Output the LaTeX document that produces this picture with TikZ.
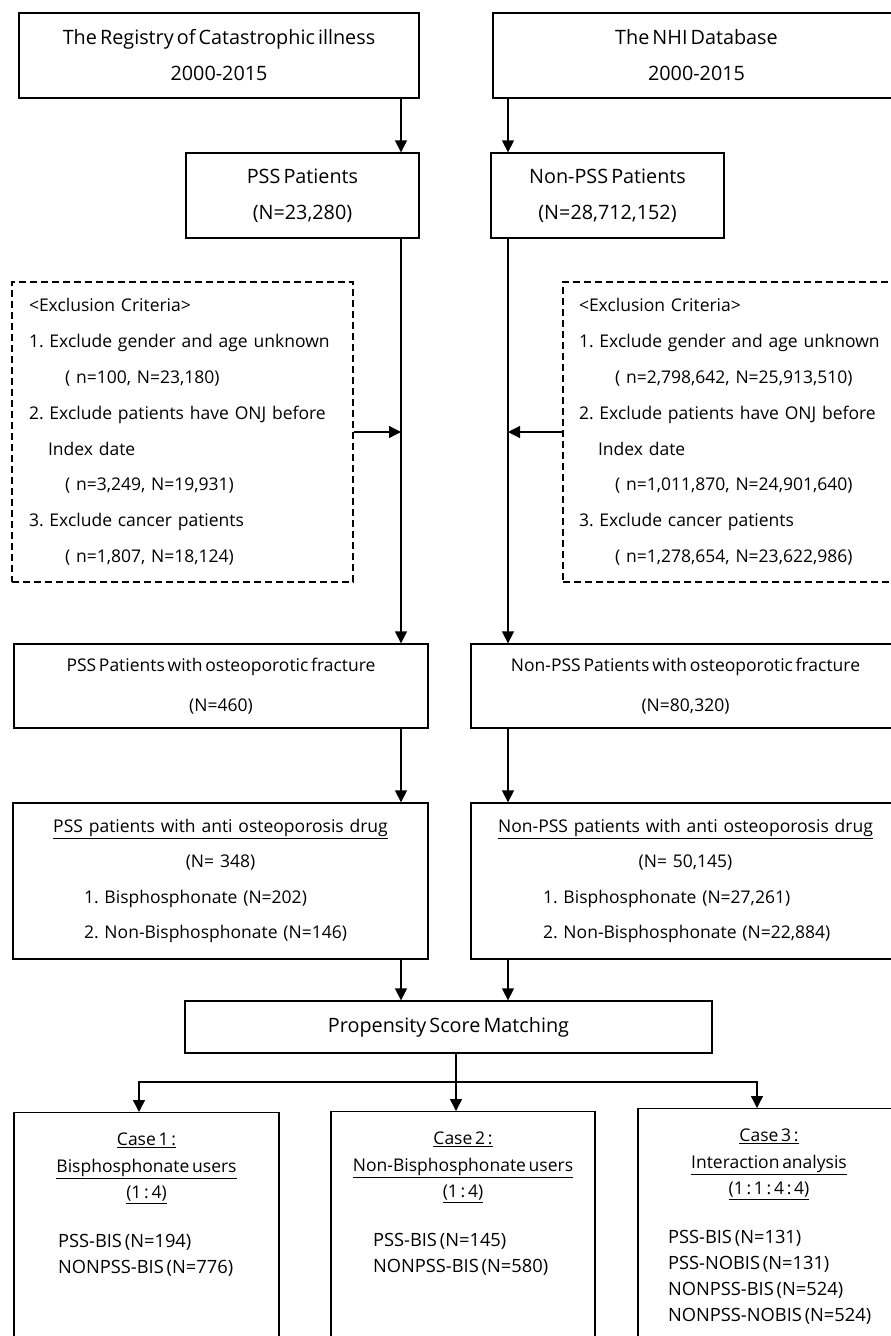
\documentclass[tikz,border=0pt]{standalone}
\usepackage{fontspec}
\setmainfont{Open Sans}[WordSpace=0.6]
\frenchspacing
\usetikzlibrary{arrows.meta}
\tikzset{
  caja/.style={draw, line width=1.3pt, inner sep=0pt, align=center, font=\fontsize{17.5}{36}\selectfont},
  grande/.style={font=\fontsize{19.8}{36}\selectfont},
  excl/.style={draw, line width=1.2pt, dash pattern=on 7pt off 4pt, inner ysep=0pt, align=left, font=\fontsize{17.5}{35.8}\selectfont},
  casebox/.style={draw, line width=1.3pt, inner sep=0pt, anchor=north},
  flecha/.style={line width=1.3pt, -{Triangle[width=12pt,length=12pt]}}
}
\newcommand{\casefont}{\fontsize{17.5}{26.8}\selectfont}
\newcommand{\itemfont}{\fontsize{18.3}{26}\selectfont}
\begin{document}
\begin{tikzpicture}[x=1pt,y=-1pt]
\useasboundingbox (0,0) rectangle (891,1336);
\clip (0,0) rectangle (891,1336);
% Columnas de flechas
\coordinate (colL) at (401,0);
\coordinate (colR) at (508,0);
\coordinate (colM) at (456,0);
\coordinate (split) at (0,1082);
\coordinate (brL) at (139,0);
\coordinate (brR) at (757,0);
% Bases de datos
\node[caja, grande, minimum width=400pt, minimum height=85pt] (reg) at (219,55.5) {The Registry of Catastrophic illness\\2000-2015};
\node[caja, grande, minimum width=407pt, minimum height=85pt] (nhi) at (696.5,55.5) {The NHI Database\\2000-2015};
% Pacientes
\node[caja, grande, minimum width=233pt, minimum height=85pt] (pss) at (302.5,195.5) {PSS Patients\\(N=23,280)};
\node[caja, grande, minimum width=233pt, minimum height=85pt] (npss) at (607.5,195.5) {Non-PSS Patients\\(N=28,712,152)};
% Criterios de exclusion
\node[excl, inner xsep=17pt, text width=307pt, minimum height=300pt] (exclL) at (182.5,432) {%
<Exclusion Criteria>\\
1. Exclude gender and age unknown\\
\hspace*{36pt}( n=100, N=23,180)\\
2. Exclude patients have ONJ before\\
\hspace*{19pt}Index date\\
\hspace*{36pt}( n=3,249, N=19,931)\\
3. Exclude cancer patients\\
\hspace*{36pt}( n=1,807, N=18,124)};
\node[excl, inner xsep=16pt, text width=305pt, minimum height=300pt] (exclR) at (731.5,432) {%
<Exclusion Criteria>\\
1. Exclude gender and age unknown\\
\hspace*{36pt}( n=2,798,642, N=25,913,510)\\
2. Exclude patients have ONJ before\\
\hspace*{19pt}Index date\\
\hspace*{36pt}( n=1,011,870, N=24,901,640)\\
3. Exclude cancer patients\\
\hspace*{36pt}( n=1,278,654, N=23,622,986)};
% Fracturas
\node[caja, minimum width=414pt, minimum height=84pt, font=\fontsize{17.5}{40}\selectfont] (fracL) at (221,686) {PSS Patients with osteoporotic fracture\\(N=460)};
\node[caja, minimum width=429pt, minimum height=84pt, font=\fontsize{17.5}{40}\selectfont] (fracR) at (685.5,686) {Non-PSS Patients with osteoporotic fracture\\(N=80,320)};
% Farmacos
\node[caja, align=left, text width=415pt, minimum height=156pt, font=\fontsize{17.5}{35.6}\selectfont] (drugL) at (220.5,881) {%
\makebox[\linewidth]{\underline{PSS patients with anti osteoporosis drug}}\\
\makebox[\linewidth]{(N= 348)}\\
\hspace*{71pt}1. Bisphosphonate (N=202)\\
\hspace*{71pt}2. Non-Bisphosphonate (N=146)};
\node[caja, align=left, text width=429pt, minimum height=156pt, font=\fontsize{17.5}{35.6}\selectfont] (drugR) at (685.5,881) {%
\makebox[\linewidth]{\underline{Non-PSS patients with anti osteoporosis drug}}\\
\makebox[\linewidth]{(N= 50,145)}\\
\hspace*{72pt}1. Bisphosphonate (N=27,261)\\
\hspace*{72pt}2. Non-Bisphosphonate (N=22,884)};
% Emparejamiento
\node[caja, grande, minimum width=527pt, minimum height=52pt] (psm) at (448.5,1027) {Propensity Score Matching};
% Casos
\node[casebox] (case1) at (146.5,1112) {\parbox[t][240pt][t]{265pt}{\casefont\vspace*{20pt}\centering
\underline{Case 1 :}\\\underline{Bisphosphonate users}\\\underline{(1 : 4)}\par\vspace{23pt}\raggedright\itemfont
\hspace*{44pt}PSS-BIS (N=194)\\\hspace*{44pt}NONPSS-BIS (N=776)}};
\node[casebox] (case2) at (463,1111) {\parbox[t][240pt][t]{264pt}{\casefont\vspace*{20pt}\centering
\underline{Case 2 :}\\\underline{Non-Bisphosphonate users}\\\underline{(1 : 4)}\par\vspace{23pt}\raggedright\itemfont
\hspace*{42pt}PSS-BIS (N=145)\\\hspace*{42pt}NONPSS-BIS (N=580)}};
\node[casebox] (case3) at (769,1108) {\parbox[t][240pt][t]{262pt}{\casefont\vspace*{20pt}\centering
\underline{Case 3 :}\\\underline{Interaction analysis}\\\underline{(1 : 1 : 4 : 4)}\par\vspace{23pt}\raggedright\itemfont
\hspace*{30pt}PSS-BIS (N=131)\\\hspace*{30pt}PSS-NOBIS (N=131)\\\hspace*{30pt}NONPSS-BIS (N=524)\\\hspace*{30pt}NONPSS-NOBIS (N=524)}};
% Flechas
\draw[flecha] (reg.south -| colL) -- (pss.north -| colL);
\draw[flecha] (nhi.south -| colR) -- (npss.north -| colR);
\draw[flecha] (pss.south -| colL) -- (fracL.north -| colL);
\draw[flecha] (npss.south -| colR) -- (fracR.north -| colR);
\draw[flecha] (exclL.east) -- (exclL.east -| colL);
\draw[flecha] (exclR.west) -- (exclR.west -| colR);
\draw[flecha] (fracL.south -| colL) -- (drugL.north -| colL);
\draw[flecha] (fracR.south -| colR) -- (drugR.north -| colR);
\draw[flecha] (drugL.south -| colL) -- (psm.north -| colL);
\draw[flecha] (drugR.south -| colR) -- (psm.north -| colR);
\draw[flecha] (psm.south -| colM) -- (case2.north -| colM);
\draw[flecha] (split -| colM) -| (case1.north -| brL);
\draw[flecha] (split -| colM) -| (case3.north -| brR);
\end{tikzpicture}
\end{document}
